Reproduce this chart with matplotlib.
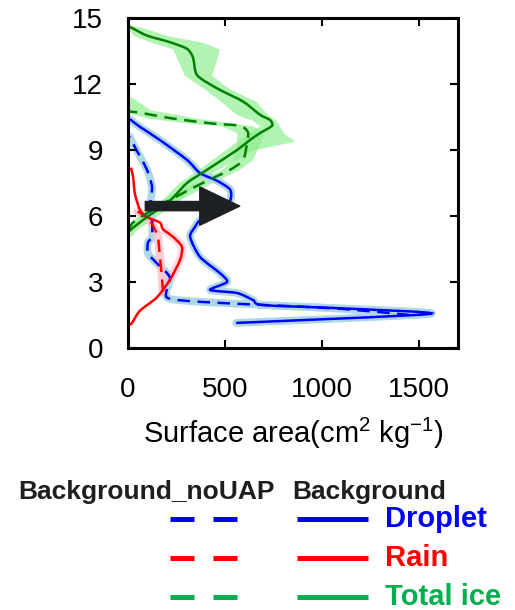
import matplotlib
matplotlib.use("Agg")
import numpy as np
import matplotlib.pyplot as plt
from matplotlib.lines import Line2D
from matplotlib.patches import FancyArrowPatch, PathPatch
from matplotlib.path import Path

plt.rcParams['font.family'] = ['Liberation Sans', 'DejaVu Sans']
plt.rcParams['mathtext.fontset'] = 'custom'
plt.rcParams['mathtext.rm'] = 'Liberation Sans'
plt.rcParams['mathtext.it'] = 'Liberation Sans:italic'

# droplet, Background (solid)
drop_bg_x = [557, 1557, 1108, 696, 644, 562, 423, 510, 474, 371, 320, 345, 371, 470, 526, 526, 459, 371, 304, 165, 62, 10]
drop_bg_y = [1.14, 1.55, 1.8, 1.95, 2.18, 2.5, 2.64, 3.0, 3.4, 4.14, 5.05, 5.5, 5.8, 6.3, 6.7, 7.2, 7.6, 7.95, 8.55, 9.45, 10.05, 10.4]
# droplet, Background_noUAP (dashed)
drop_no_x = [1450, 1100, 716, 371, 200, 216, 149, 103, 103, 124, 124, 113, 124, 98, 62, 26, 10]
drop_no_y = [1.5, 1.78, 1.95, 2.1, 2.3, 3.2, 3.85, 4.3, 4.8, 5.05, 5.8, 6.4, 7.3, 8.1, 8.7, 9.3, 9.6]

# rain
rain_bg_x = [5, 20, 62, 149, 216, 268, 278, 232, 180, 165, 98, 62, 36, 26, 15]
rain_bg_y = [1.05, 1.13, 1.7, 2.3, 3.1, 4.0, 4.6, 5.05, 5.4, 5.7, 5.95, 6.27, 7.0, 7.8, 8.2]
rain_no_x = [180, 175, 165, 155, 149, 113, 77, 50]
rain_no_y = [2.55, 3.2, 4.1, 5.05, 5.2, 5.8, 6.05, 6.2]

# total ice
ice_bg_y = [5.1, 5.35, 5.95, 6.7, 7.5, 8.1, 9.0, 9.4, 9.77, 10.1, 10.36, 10.6, 11.2, 11.8, 12.4, 13.2, 13.6, 13.9, 14.2, 14.55, 14.65]
ice_bg_x = [0, 10, 98, 216, 304, 407, 562, 620, 680, 742, 732, 680, 593, 459, 356, 335, 304, 216, 98, 20, 0]
ice_bg_lo = [0, 0, 60, 170, 260, 360, 500, 560, 620, 680, 640, 560, 480, 390, 290, 250, 230, 120, 30, 0, 0]
ice_bg_hi = [20, 40, 140, 260, 350, 460, 640, 860, 800, 780, 760, 720, 660, 520, 430, 460, 470, 380, 200, 80, 20]

ice_no_y = [5.3, 5.7, 6.3, 6.9, 7.6, 8.1, 8.55, 9.3, 9.8, 10.1, 10.2, 10.45, 10.7, 10.8, 11.4]
ice_no_x = [0, 26, 129, 252, 407, 526, 593, 613, 618, 577, 438, 216, 62, 0, 0]
ice_no_lo = [0, 10, 90, 210, 360, 480, 540, 560, 560, 480, 330, 100, 0, 0, 0]
ice_no_hi = [20, 60, 170, 300, 450, 570, 640, 680, 700, 640, 560, 350, 200, 120, 20]


def smooth(ax, x, y, **kw):
    # draw the read points as a smooth (Catmull-Rom style) bezier curve
    p = np.column_stack([x, y]).astype(float)
    ext = np.vstack([p[0], p, p[-1]])
    verts = [p[0]]
    codes = [Path.MOVETO]
    for i in range(len(p) - 1):
        a, b, c, d = ext[i], ext[i + 1], ext[i + 2], ext[i + 3]
        verts += [b + (c - a) / 8, c - (d - b) / 8, c]
        codes += [Path.CURVE4] * 3
    patch = PathPatch(Path(verts, codes), facecolor='none', **kw)
    ax.add_patch(patch)
    return patch


fig = plt.figure(figsize=(5.15, 6.1), dpi=100)
ax = fig.add_axes([0.2485, 0.4295, 0.641, 0.541])

# shaded spread
ax.fill_betweenx(ice_bg_y, ice_bg_lo, ice_bg_hi, color='#90ee90', alpha=0.7, lw=0)
ax.fill_betweenx(ice_no_y, ice_no_lo, ice_no_hi, color='#90ee90', alpha=0.7, lw=0)
smooth(ax, drop_bg_x, drop_bg_y, edgecolor='#add8e6', lw=5.5, capstyle='round', joinstyle='round')
smooth(ax, drop_no_x, drop_no_y, edgecolor='#add8e6', lw=5.5, capstyle='round', joinstyle='round')
smooth(ax, rain_no_x, rain_no_y, edgecolor='#ffc0cb', lw=6, alpha=0.8, capstyle='round')
smooth(ax, rain_bg_x[4:9], rain_bg_y[4:9], edgecolor='#ffc0cb', lw=6, alpha=0.6)

smooth(ax, drop_no_x, drop_no_y, edgecolor='#0000ff', lw=1.8, linestyle=(0, (5, 3)))
smooth(ax, drop_bg_x, drop_bg_y, edgecolor='#0000ff', lw=1.8)
smooth(ax, rain_no_x, rain_no_y, edgecolor='#ff0000', lw=1.8, linestyle=(0, (5, 3)))
smooth(ax, rain_bg_x, rain_bg_y, edgecolor='#ff0000', lw=1.8)
smooth(ax, ice_no_x, ice_no_y, edgecolor='#008000', lw=1.8, linestyle=(0, (5, 3)))
smooth(ax, ice_bg_x, ice_bg_y, edgecolor='#008000', lw=1.8)

arrow = FancyArrowPatch((75, 6.45), (590, 6.45), mutation_scale=12,
                        arrowstyle='simple,head_length=2.4,head_width=2.3,tail_width=0.55',
                        color='#1e2124', zorder=5)
ax.add_patch(arrow)

ax.set_xlim(0, 1700)
ax.set_ylim(0, 15)
ax.set_xticks([0, 500, 1000, 1500])
ax.set_yticks([0, 3, 6, 9, 12, 15])
ax.tick_params(direction='in', length=6, width=1.5, top=True, right=True,
               labelsize=20, pad=18)
ax.tick_params(axis='x', pad=21)
for s in ax.spines.values():
    s.set_linewidth(2.2)
ax.set_xlabel('Surface area(cm$^{2}$ kg$^{-1}$)', fontsize=21, labelpad=9)

# legend block
fig.text(18 / 515, 1 - 492 / 610, 'Background_noUAP', fontsize=19, fontweight='bold',
         color='#1e1e1e', va='center', ha='left')
fig.text(292 / 515, 1 - 492 / 610, 'Background', fontsize=19, fontweight='bold',
         color='#1e1e1e', va='center', ha='left')
leg_names = ['Droplet', 'Rain', 'Total ice']
leg_colors = ['#0000ff', '#ff0000', '#00b050']
leg_rows = [519, 558, 597]
for name, c, ry in zip(leg_names, leg_colors, leg_rows):
    yy = 1 - ry / 610
    fig.add_artist(Line2D([170 / 515, 237 / 515], [yy, yy], color=c, lw=3.6,
                          dashes=(4.8, 3.8), dash_capstyle='butt'))
    fig.add_artist(Line2D([297 / 515, 368 / 515], [yy, yy], color=c, lw=3.6,
                          solid_capstyle='butt'))
    fig.text(385 / 515, yy, name, fontsize=21, fontweight='bold', color=c,
             va='center', ha='left')

fig.savefig('out.png', dpi=100)
